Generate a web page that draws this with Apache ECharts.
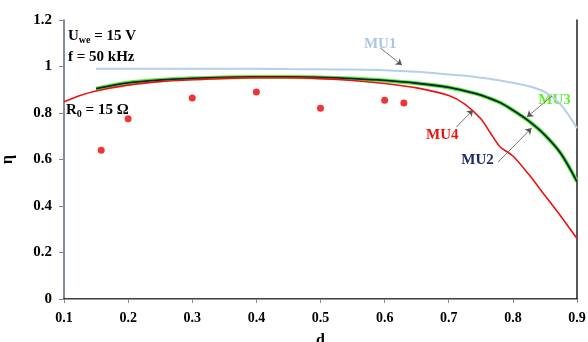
<!DOCTYPE html>
<html>
<head>
<meta charset="utf-8">
<script src="https://cdn.jsdelivr.net/npm/echarts@6/dist/echarts.min.js"></script>
<style>
  html, body { margin: 0; padding: 0; background: #fff; }
  #chart { width: 588px; height: 342px; }
</style>
</head>
<body>
<div id="chart"></div>
<script>
// d values shared by the curves
var dVals = [0.1, 0.125, 0.15, 0.2, 0.25, 0.3, 0.35, 0.4, 0.45, 0.5, 0.55, 0.6, 0.65, 0.7, 0.725, 0.75, 0.765, 0.78, 0.8, 0.825, 0.85, 0.875, 0.9];
var mu1 = [null, null, 0.99, 0.99, 0.99, 0.99, 0.99, 0.99, 0.989, 0.988, 0.987, 0.984, 0.977, 0.966, 0.96, 0.952, 0.946, 0.94, 0.93, 0.915, 0.89, 0.835, 0.735];
var mu2 = [null, null, 0.905, 0.93, 0.942, 0.949, 0.953, 0.955, 0.955, 0.953, 0.948, 0.94, 0.928, 0.91, 0.895, 0.877, 0.862, 0.845, 0.812, 0.765, 0.705, 0.625, 0.505];
var mu3 = mu2.slice();
var mu4 = [0.848, 0.875, 0.895, 0.92, 0.935, 0.943, 0.949, 0.952, 0.952, 0.948, 0.94, 0.927, 0.908, 0.875, 0.838, 0.775, 0.714, 0.655, 0.615, 0.535, 0.445, 0.355, 0.26];
// measured points
var measD = [0.158, 0.2, 0.3, 0.4, 0.5, 0.6, 0.63];
var measEta = [0.64, 0.775, 0.865, 0.89, 0.82, 0.855, 0.843];

var xTicks = ['0.1', '0.2', '0.3', '0.4', '0.5', '0.6', '0.7', '0.8', '0.9'];
var yTicks = ['0', '0.2', '0.4', '0.6', '0.8', '1', '1.2'];

// curve labels and arrows: [label, color, textD, textEta, tailD, tailEta, headD, headEta]
var curveNotes = [
  ['MU1', '#a9c6e8', 0.593, 1.097, 0.593, 1.08, 0.627, 1.006],
  ['MU3', '#66ee33', 0.865, 0.856, 0.861, 0.873, 0.822, 0.783],
  ['MU4', '#ee1111', 0.69, 0.705, 0.712, 0.74, 0.738, 0.813],
  ['MU2', '#1f2d66', 0.745, 0.597, 0.777, 0.589, 0.829, 0.735]
];

function pairs(ys) {
  var out = [];
  for (var i = 0; i < dVals.length; i++) {
    if (ys[i] != null) out.push([dVals[i], ys[i]]);
  }
  return out;
}

var serif = 'Liberation Serif';
var chart = echarts.init(document.getElementById('chart'));

var arrowLines = curveNotes.map(function (n) {
  return [{ coord: [n[4], n[5]] }, { coord: [n[6], n[7]] }];
});

var option = {
  backgroundColor: '#fff',
  animation: false,
  grid: { left: 64, right: 11, top: 20, bottom: 43, outerBoundsMode: 'none' },
  xAxis: [{
    type: 'value', min: 0.1, max: 0.9, interval: 0.1,
    name: 'd', nameLocation: 'middle', nameGap: 34,
    nameTextStyle: { fontFamily: serif, fontWeight: 'bold', fontSize: 16, color: '#000' },
    axisLine: { lineStyle: { color: '#000', width: 1.5 } },
    axisTick: { show: true, length: 4, lineStyle: { color: '#888' } },
    axisLabel: {
      fontFamily: serif, fontWeight: 'bold', fontSize: 14, color: '#000', margin: 12,
      formatter: function (v) { return xTicks[Math.round((v - 0.1) * 10)]; }
    },
    splitLine: { show: false }
  }, {
    type: 'value', position: 'top', min: 0.1, max: 0.9,
    axisLine: { show: true, lineStyle: { color: '#999', width: 1 } },
    axisTick: { show: false }, axisLabel: { show: false }, splitLine: { show: false }
  }],
  yAxis: [{
    type: 'value', min: 0, max: 1.2, interval: 0.2,
    name: 'η', nameLocation: 'middle', nameGap: 48,
    nameTextStyle: { fontFamily: serif, fontWeight: 'bold', fontSize: 16, color: '#000' },
    axisLine: { show: true, lineStyle: { color: '#56647e', width: 1.5 } },
    axisTick: { show: true, length: 5, lineStyle: { color: '#888' } },
    axisLabel: {
      fontFamily: serif, fontWeight: 'bold', fontSize: 15, color: '#000', margin: 12,
      formatter: function (v) { return yTicks[Math.round(v * 5)]; }
    },
    splitLine: { show: false }
  }, {
    type: 'value', position: 'right', min: 0, max: 1.2,
    axisLine: { show: true, lineStyle: { color: '#222', width: 1.5 } },
    axisTick: { show: false }, axisLabel: { show: false }, splitLine: { show: false }
  }],
  series: [
    {
      name: 'MU1', type: 'line', data: pairs(mu1), smooth: 0.3, symbol: 'none',
      lineStyle: { color: '#b4cfea', width: 2 }
    },
    {
      name: 'MU3', type: 'line', data: pairs(mu3), smooth: 0.3, symbol: 'none',
      lineStyle: { color: '#55ee22', width: 4 }
    },
    {
      name: 'MU2', type: 'line', data: pairs(mu2), smooth: 0.3, symbol: 'none',
      lineStyle: { color: '#0f1f4a', width: 1.8 }
    },
    {
      name: 'MU4', type: 'line', data: pairs(mu4), smooth: 0.3, symbol: 'none',
      lineStyle: { color: '#ee1111', width: 1.6 },
      markLine: {
        silent: true, symbol: ['none', 'arrow'], symbolSize: 6,
        label: { show: false },
        lineStyle: { color: '#555', width: 0.8, type: 'solid' },
        data: arrowLines
      }
    },
    {
      name: 'meas', type: 'scatter',
      data: measD.map(function (d, i) { return [d, measEta[i]]; }),
      symbol: 'circle', symbolSize: 7,
      itemStyle: { color: '#ee0000' }
    }
  ]
};
chart.setOption(option);

// text annotations
var graphics = [
  {
    type: 'text', left: 68, top: 29,
    style: {
      text: '{b|U}{s|we}{b| = 15 V}',
      rich: {
        b: { fontFamily: serif, fontWeight: 'bold', fontSize: 15, fill: '#000' },
        s: { fontFamily: serif, fontWeight: 'bold', fontSize: 10, fill: '#000', padding: [7, 0, 0, 0] }
      }
    }
  },
  {
    type: 'text', left: 68, top: 50,
    style: { text: 'f = 50 kHz', fontFamily: serif, fontWeight: 'bold', fontSize: 15, fill: '#000' }
  },
  {
    type: 'text', left: 66, top: 103,
    style: {
      text: '{b|R}{s|0}{b| = 15 Ω}',
      rich: {
        b: { fontFamily: serif, fontWeight: 'bold', fontSize: 15, fill: '#000' },
        s: { fontFamily: serif, fontWeight: 'bold', fontSize: 10, fill: '#000', padding: [7, 0, 0, 0] }
      }
    }
  }
];
curveNotes.forEach(function (n) {
  var p = chart.convertToPixel({ gridIndex: 0 }, [n[2], n[3]]);
  graphics.push({
    type: 'text', x: p[0], y: p[1],
    style: {
      text: n[0], fontFamily: serif, fontWeight: 'bold', fontSize: 15, fill: n[1],
      align: 'center', verticalAlign: 'middle'
    }
  });
});
chart.setOption({ graphic: graphics });
</script>
</body>
</html>
